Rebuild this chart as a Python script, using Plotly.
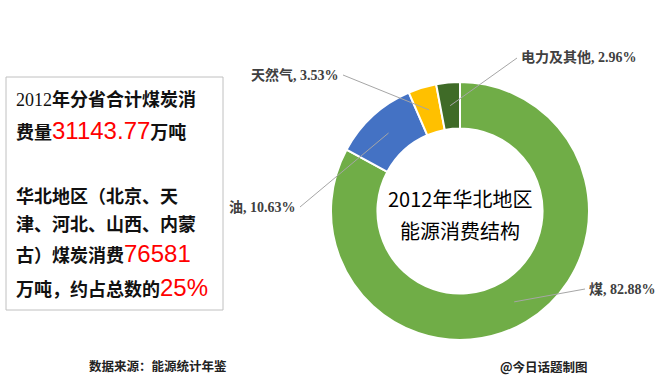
import math
import plotly.graph_objects as go

# ---- data ----
categories = ["煤", "油", "天然气", "电力及其他"]
shares = [82.88, 10.63, 3.53, 2.96]
colors = ["#70AD47", "#4472C4", "#FFC000", "#3F6B27"]

title_lines = ["2012年华北地区", "能源消费结构"]
source_text = "数据来源：能源统计年鉴"
credit_text = "@今日话题制图"
total_coal = "31143.77"
north_coal = "76581"
north_share = "25%"

W, H = 660, 384
CX, CY, R = 460, 211, 129
HOLE = 0.64


def px(x):
    return x / W


def py(y):
    return 1 - y / H


fig = go.Figure()
fig.add_trace(go.Pie(
    labels=categories,
    values=shares,
    marker=dict(colors=colors, line=dict(color="white", width=2)),
    hole=HOLE,
    sort=False,
    direction="clockwise",
    rotation=0,
    textinfo="none",
    hoverinfo="label+percent",
    domain=dict(x=[px(CX - R), px(CX + R)], y=[py(CY + R), py(CY - R)]),
    showlegend=False,
))

# label placement (layout): end point of leader line + text anchor
label_pos = {
    "煤": (585, 289, "left"),
    "油": (300, 207, "right"),
    "天然气": (343, 75, "right"),
    "电力及其他": (517, 58, "left"),
}

total = sum(shares)
cum = 0.0
shapes = []
annotations = []
r_mid = R * (1 + HOLE) / 2
for cat, v in zip(categories, shares):
    mid = (cum + v / 2) / total
    cum += v
    ang = 2 * math.pi * mid
    ax = CX + r_mid * math.sin(ang)
    ay = CY - r_mid * math.cos(ang)
    lx, ly, side = label_pos[cat]
    shapes.append(dict(type="line", xref="paper", yref="paper",
                       x0=px(ax), y0=py(ay), x1=px(lx), y1=py(ly),
                       line=dict(color="#A6A6A6", width=1)))
    tx = lx + 2 if side == "left" else lx - 2
    annotations.append(dict(
        x=px(tx), y=py(ly), xref="paper", yref="paper",
        xanchor=side, yanchor="middle", showarrow=False,
        text=f"{cat}, {v:.2f}%",
        font=dict(family="Liberation Serif, Noto Sans CJK SC", size=14,
                  color="#404040", weight="bold"),
    ))

# center title
for i, line in enumerate(title_lines):
    annotations.append(dict(
        x=px(CX), y=py(198 + 32 * i), xref="paper", yref="paper",
        xanchor="center", yanchor="middle", showarrow=False, text=line,
        font=dict(family="Noto Sans CJK SC", size=20, color="#000000"),
    ))

# left text box
red = ('style="color:#FF0000;font-family:Liberation Sans, Arial;'
       'font-size:24px;font-weight:normal"')
serif = 'style="font-family:Liberation Serif;font-weight:normal"'
box_lines = [
    (98, "<span " + serif + ">2012</span>年分省合计煤炭消"),
    (130, f"费量<span {red}>{total_coal}</span>万吨"),
    (195, "华北地区（北京、天"),
    (223, "津、河北、山西、内蒙"),
    (253, f"古）煤炭消费<span {red}>{north_coal}</span>"),
    (287, f"万吨，约占总数的<span {red}>{north_share}</span>"),
]
for y, t in box_lines:
    annotations.append(dict(
        x=px(14), y=py(y), xref="paper", yref="paper",
        xanchor="left", yanchor="middle", showarrow=False, text=t,
        font=dict(family="Noto Sans CJK SC", size=18, color="#111111",
                  weight="bold"),
    ))
shapes.append(dict(type="rect", xref="paper", yref="paper",
                   x0=px(6), y0=py(310), x1=px(223), y1=py(77),
                   line=dict(color="#C0C0C0", width=1)))

# footer
annotations.append(dict(
    x=px(87), y=py(365), xref="paper", yref="paper",
    xanchor="left", yanchor="middle", showarrow=False, text=source_text,
    font=dict(family="Noto Sans CJK SC", size=12.5, color="#222222", weight="bold"),
))
annotations.append(dict(
    x=px(498), y=py(366), xref="paper", yref="paper",
    xanchor="left", yanchor="middle", showarrow=False, text=credit_text,
    font=dict(family="Noto Sans CJK SC", size=12.5, color="#222222", weight="bold"),
))

fig.update_layout(
    width=W, height=H,
    margin=dict(l=0, r=0, t=0, b=0),
    paper_bgcolor="white", plot_bgcolor="white",
    shapes=shapes, annotations=annotations,
    showlegend=False,
)
fig.write_html(
    "out.html",
    config={"displayModeBar": False},
    post_script="document.body.style.margin='0';document.body.style.overflow='hidden';",
)
